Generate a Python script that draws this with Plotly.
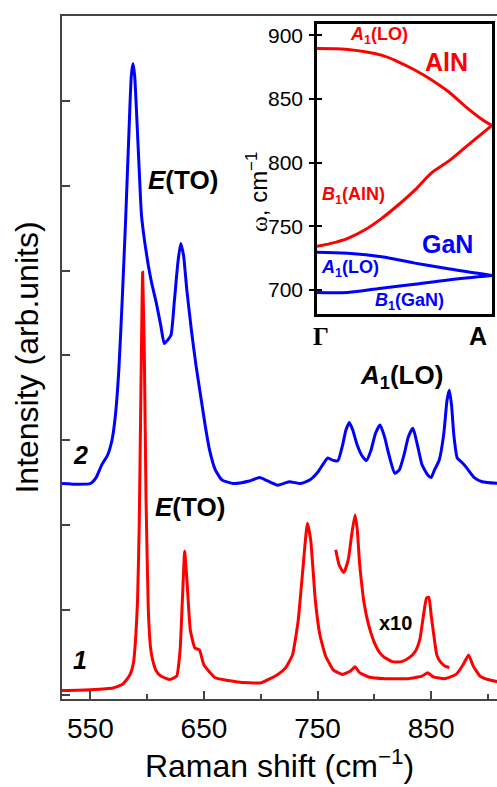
import plotly.graph_objects as go

# ---------------- main spectra data ----------------
red_x = [525, 550, 570, 578, 582, 585, 588, 590, 591.5, 593, 594.5, 596, 597.5, 599, 601, 603, 605,
         608, 612, 620, 626, 629, 631, 633, 635, 638, 642, 646, 650, 660, 680, 700, 715, 722, 728,
         733, 737, 741, 744, 748, 752, 757, 764, 772, 779, 783, 787, 795, 810, 830, 842, 847,
         852, 862, 872, 878, 883, 887, 893, 900, 910]
red_y = [0.05, 0.06, 0.08, 0.12, 0.18, 0.24, 0.38, 0.7, 1.1, 2.0, 3.6, 4.98, 4.0, 2.3, 1.0, 0.55,
         0.4, 0.28, 0.22, 0.18, 0.22, 0.53, 1.12, 1.69, 1.35, 0.76, 0.55, 0.53, 0.35, 0.2, 0.15,
         0.14, 0.24, 0.32, 0.47, 0.88, 1.47, 2.02, 1.82, 1.12, 0.71, 0.46, 0.29, 0.24, 0.28, 0.33,
         0.26, 0.21, 0.19, 0.19, 0.22, 0.26, 0.21, 0.19, 0.24, 0.35, 0.47, 0.34, 0.22, 0.18, 0.15]

x10_x = [766, 769, 773, 777, 780, 783, 785, 787, 789, 791, 795, 799, 804, 808, 816, 824, 831,
         836, 840, 843, 846, 848, 850, 852, 855, 858, 862, 866]
x10_y = [1.71, 1.53, 1.44, 1.59, 1.88, 2.12, 1.94, 1.55, 1.29, 1.08, 0.82, 0.65, 0.51, 0.45, 0.39,
         0.39, 0.44, 0.51, 0.65, 0.91, 1.14, 1.15, 0.94, 0.74, 0.47, 0.39, 0.34, 0.32]

blue_x = [525, 540, 550, 555, 560, 565, 569, 572, 575, 578, 581, 584, 586, 587.5, 589, 591, 593,
          595, 598, 601, 604, 608, 612, 615, 618, 621, 624, 627, 629.5, 632, 635, 639, 643, 647,
          651, 655, 660, 666, 676, 690, 699, 706, 715, 725, 735, 743, 750, 755, 759, 764, 768,
          772, 775, 778, 781, 785, 789, 793, 797, 801, 805, 809, 813, 818, 822, 826, 830, 834,
          838, 842, 847, 850, 853, 857, 861, 864, 866, 868, 870, 873, 877, 881, 888, 895, 910]
blue_y = [2.49, 2.48, 2.49, 2.56, 2.71, 2.82, 3.0, 3.29, 3.82, 4.65, 5.59, 6.65, 7.29, 7.44, 7.29,
          6.76, 6.18, 5.65, 5.32, 5.06, 4.85, 4.62, 4.35, 4.14, 4.18, 4.24, 4.65, 5.09, 5.32, 5.18,
          4.76, 4.29, 3.88, 3.53, 3.18, 2.88, 2.65, 2.53, 2.49, 2.52, 2.56, 2.52, 2.47, 2.51, 2.49,
          2.53, 2.62, 2.72, 2.79, 2.76, 2.76, 2.94, 3.12, 3.21, 3.12, 2.94, 2.82, 2.76, 2.88, 3.08,
          3.18, 3.04, 2.82, 2.61, 2.65, 2.82, 3.04, 3.14, 2.94, 2.71, 2.59, 2.56, 2.65, 2.76, 3.06,
          3.47, 3.59, 3.41, 3.06, 2.79, 2.74, 2.68, 2.56, 2.51, 2.49]

x_tickvals = [550, 650, 750, 850]
x_ticklabels = ["550", "650", "750", "850"]

# ---------------- inset dispersion data ----------------
q_aln_lo = [0.0, 0.176, 0.368, 0.464, 0.559, 0.655, 0.75, 0.847, 0.943, 1.0]
w_aln_lo = [889.7, 888.9, 884.5, 879.3, 872.8, 865, 855.9, 844.3, 834, 829.3]
q_aln_b1 = [0.0, 0.08, 0.176, 0.272, 0.368, 0.464, 0.559, 0.655, 0.75, 0.847, 1.0]
w_aln_b1 = [734.2, 736.5, 740.5, 747, 756, 766.7, 778.4, 792, 801, 812, 829.3]
q_gan_lo = [0.0, 0.176, 0.368, 0.559, 0.75, 1.0]
w_gan_lo = [729.5, 728.7, 726, 721, 716.5, 711.2]
q_gan_b1 = [0.0, 0.176, 0.368, 0.559, 0.75, 1.0]
w_gan_b1 = [698, 698, 701.3, 704.4, 707.8, 711.2]
inset_ticks = [700, 750, 800, 850, 900]

RED = "#ff0000"
BLUE = "#0000ff"
FONT = "Liberation Sans, Arial, sans-serif"

fig = go.Figure()
fig.add_trace(go.Scatter(x=blue_x, y=blue_y, mode="lines",
                         line=dict(color=BLUE, width=3, shape="spline", smoothing=0.5)))
fig.add_trace(go.Scatter(x=red_x, y=red_y, mode="lines",
                         line=dict(color=RED, width=3, shape="spline", smoothing=0.4)))
fig.add_trace(go.Scatter(x=x10_x, y=x10_y, mode="lines",
                         line=dict(color=RED, width=3, shape="spline", smoothing=0.5)))

for qx, wy, c in [(q_aln_lo, w_aln_lo, RED), (q_aln_b1, w_aln_b1, RED),
                  (q_gan_lo, w_gan_lo, BLUE), (q_gan_b1, w_gan_b1, BLUE)]:
    fig.add_trace(go.Scatter(x=qx, y=wy, mode="lines", line=dict(color=c, width=3, shape="spline"),
                             xaxis="x2", yaxis="y2"))
# invisible trace so that the inner tick axis of the inset is drawn
fig.add_trace(go.Scatter(x=[0], y=[800], mode="lines", line=dict(width=0), xaxis="x2", yaxis="y3",
                         hoverinfo="skip"))

annotations = [
    dict(x=631.5, y=6.07, xref="x", yref="y", text="<b><i>E</i>(TO)</b>", font=dict(size=26)),
    dict(x=637.7, y=2.21, xref="x", yref="y", text="<b><i>E</i>(TO)</b>", font=dict(size=26)),
    dict(x=541.7, y=2.83, xref="x", yref="y", text="<b><i>2</i></b>", font=dict(size=25)),
    dict(x=540.8, y=0.41, xref="x", yref="y", text="<b><i>1</i></b>", font=dict(size=25)),
    dict(x=824.3, y=3.75, xref="x", yref="y", text="<b><i>A</i><sub>1</sub>(LO)</b>", font=dict(size=26)),
    dict(x=819, y=0.85, xref="x", yref="y", text="<b>x10</b>", font=dict(size=20)),
    # inset labels
    dict(x=0.356, y=900, xref="x2", yref="y2", text="<b><i>A</i><sub>1</sub>(LO)</b>", font=dict(size=18, color=RED)),
    dict(x=0.74, y=879, xref="x2", yref="y2", text="<b>AlN</b>", font=dict(size=25, color=RED)),
    dict(x=0.21, y=774.5, xref="x2", yref="y2", text="<b><i>B</i><sub>1</sub>(AlN)</b>", font=dict(size=18, color=RED)),
    dict(x=0.745, y=736, xref="x2", yref="y2", text="<b>GaN</b>", font=dict(size=25, color=BLUE)),
    dict(x=0.19, y=717, xref="x2", yref="y2", text="<b><i>A</i><sub>1</sub>(LO)</b>", font=dict(size=18, color=BLUE)),
    dict(x=0.53, y=690.6, xref="x2", yref="y2", text="<b><i>B</i><sub>1</sub>(GaN)</b>", font=dict(size=18, color=BLUE)),
    dict(x=(321 - 62) / 435, y=(699 - 336) / 683, xref="paper", yref="paper", text="<b>Γ</b>",
         font=dict(size=25, family="Liberation Serif, Times New Roman, serif")),
    dict(x=(489 - 62) / 435, y=(699 - 336) / 683, xref="paper", yref="paper", text="<b>A</b>",
         font=dict(size=25)),
    dict(x=(257 - 62) / 435, y=(699 - 150) / 683, xref="paper", yref="paper",
         text="<span style='font-family:Liberation Serif'>ω</span>, cm<sup>−1</sup>", textangle=-90,
         font=dict(size=24)),
]
for a in annotations:
    a.setdefault("showarrow", False)
    f = a["font"]
    f.setdefault("family", FONT)
    f.setdefault("color", "black")

inset_dom_x = [(317 - 62) / 435, (492 - 62) / 435]
inset_dom_y = [(699 - 314) / 683, (699 - 24) / 683]

fig.update_layout(
    width=497, height=787,
    margin=dict(l=62, r=0, t=16, b=88),
    paper_bgcolor="white", plot_bgcolor="white",
    showlegend=False,
    font=dict(family=FONT, color="black"),
    annotations=annotations,
    xaxis=dict(
        range=[525, 908], domain=[0, 1],
        tickmode="array", tickvals=x_tickvals, ticktext=x_ticklabels,
        ticks="inside", ticklen=8, tickwidth=1.5, tickcolor="#444",
        minor=dict(ticks="inside", ticklen=5, tickwidth=1.5, tickcolor="#444",
                   tickmode="array", tickvals=[600, 700, 800, 900]),
        showline=True, linecolor="#444", linewidth=2, mirror=True,
        showgrid=False, zeroline=False,
        tickfont=dict(size=28), ticklabelstandoff=3,
        title=dict(text="Raman shift (cm<sup>−1</sup>)", font=dict(size=32), standoff=10),
    ),
    yaxis=dict(
        range=[-0.05, 8.0], domain=[0, 1],
        tickmode="array", tickvals=[0, 1, 2, 3, 4, 5, 6, 7], showticklabels=False,
        ticks="inside", ticklen=8, tickwidth=1.5, tickcolor="#444",
        showline=True, linecolor="#444", linewidth=2, mirror=False,
        showgrid=False, zeroline=False,
        title=dict(text="Intensity (arb.units)", font=dict(size=32), standoff=12),
    ),
    xaxis2=dict(
        domain=inset_dom_x, anchor="y2",
        range=[0, 1], showticklabels=False, ticks="",
        showline=True, linecolor="black", linewidth=2.5, mirror=True,
        showgrid=False, zeroline=False,
    ),
    yaxis2=dict(
        domain=inset_dom_y, anchor="x2",
        range=[681, 909], tickmode="array", tickvals=inset_ticks,
        ticks="outside", ticklen=5, tickwidth=1.5, tickcolor="black",
        showline=True, linecolor="black", linewidth=2.5, mirror=True,
        showgrid=False, zeroline=False,
        tickfont=dict(size=21), ticklabelstandoff=2,
    ),
    yaxis3=dict(
        domain=inset_dom_y, anchor="x2", overlaying="y2",
        range=[681, 909], tickmode="array", tickvals=inset_ticks,
        ticks="inside", ticklen=5, tickwidth=1.5, tickcolor="black",
        showticklabels=False, showline=False, showgrid=False, zeroline=False,
    ),
)

fig.write_html("out.html")
